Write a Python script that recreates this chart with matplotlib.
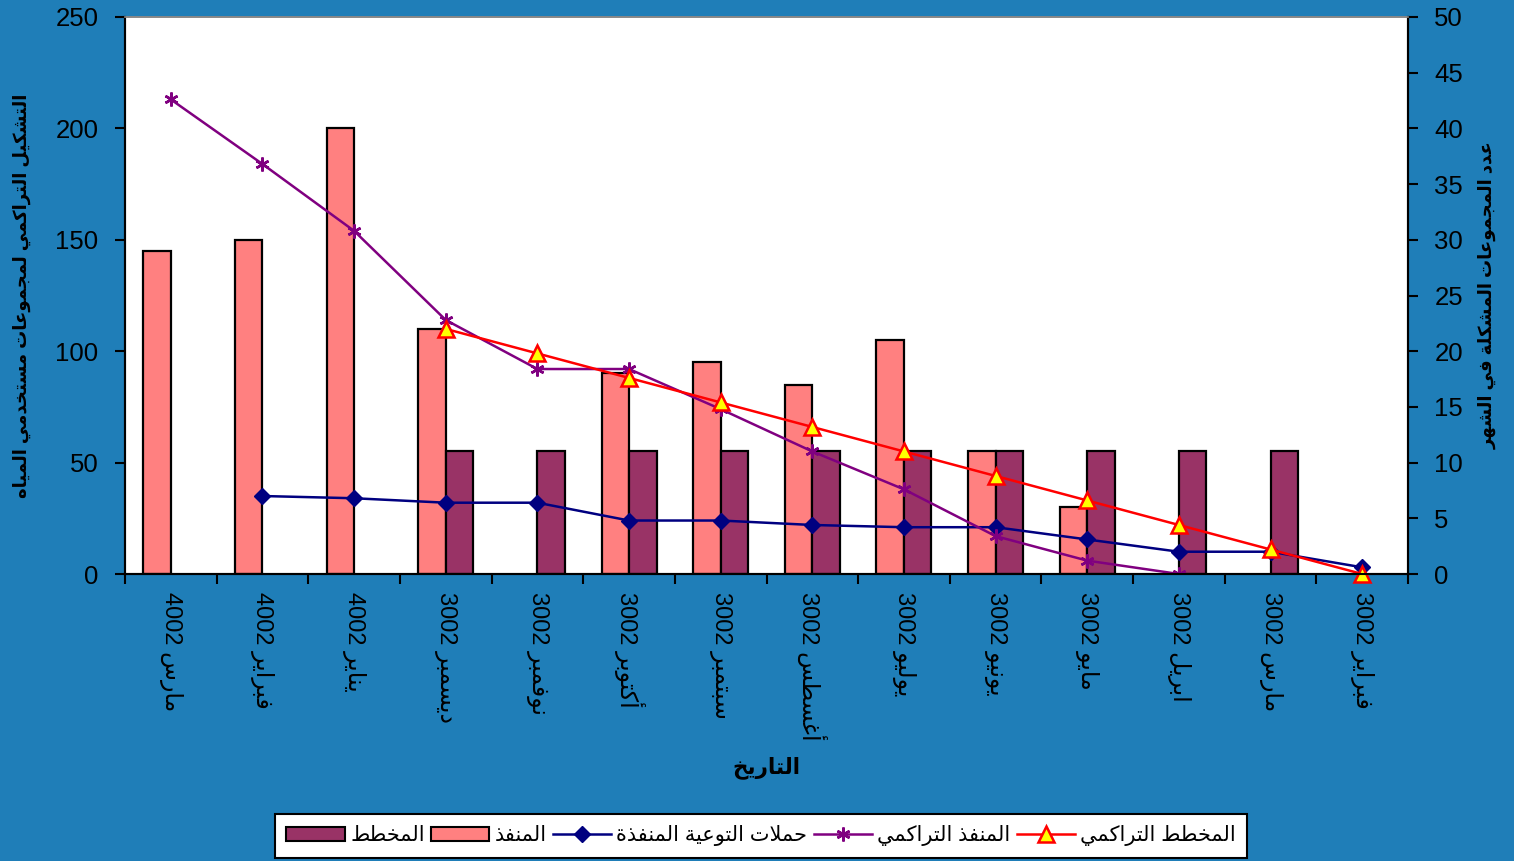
import matplotlib
matplotlib.use("Agg")
import matplotlib.pyplot as plt
from matplotlib.lines import Line2D
from matplotlib.patches import Patch

plt.rcParams['font.family'] = ['Liberation Sans', 'DejaVu Sans']

# الشهور بترتيب الرسم (من اليسار)
months = ['مارس', 'فبراير', 'يناير', 'ديسمبر', 'نوفمبر', 'أكتوبر', 'سبتمبر',
          'أغسطس', 'يوليو', 'يونيو', 'مايو', 'ابريل', 'مارس', 'فبراير']
# years as they appear in the picture (digits shown reversed)
years = ['4002', '4002', '4002', '3002', '3002', '3002', '3002',
         '3002', '3002', '3002', '3002', '3002', '3002', '3002']

# bars (right axis, groups per month)
executed = [29, 30, 40, 22, 0, 18, 19, 17, 21, 11, 6, 0, 0, 0]
planned = [0, 0, 0, 11, 11, 11, 11, 11, 11, 11, 11, 11, 11, 0]

# lines (left axis)
campaigns = [None, 35, 34, 32, 32, 24, 24, 22, 21, 21, 15.5, 10, 10, 3]
cum_executed = [213, 184, 154, 114, 92, 92, 74, 55, 38, 17, 6, 0, None, None]
cum_planned = [None, None, None, 110, 99, 88, 77, 66, 55, 44, 33, 22, 11, 0]

lbl_planned = 'المخطط'
lbl_executed = 'المنفذ'
lbl_campaigns = 'حملات التوعية المنفذة'
lbl_cum_exec = 'المنفذ التراكمي'
lbl_cum_plan = 'المخطط التراكمي'
ylabel_left = 'التشكيل التراكمي لمجموعات مستخدمي المياه'
ylabel_right = 'عدد المجموعات المشكلة في الشهر'
xlabel = 'التاريخ'

# --- minimal arabic shaping (matplotlib has no complex text layout) ---
FORMS = {
    'ا': ('\ufe8d', '\ufe8e', None, None),
    'أ': ('\ufe83', '\ufe84', None, None),
    'ب': ('\ufe8f', '\ufe90', '\ufe91', '\ufe92'),
    'ة': ('\ufe93', '\ufe94', None, None),
    'ت': ('\ufe95', '\ufe96', '\ufe97', '\ufe98'),
    'ج': ('\ufe9d', '\ufe9e', '\ufe9f', '\ufea0'),
    'ح': ('\ufea1', '\ufea2', '\ufea3', '\ufea4'),
    'خ': ('\ufea5', '\ufea6', '\ufea7', '\ufea8'),
    'د': ('\ufea9', '\ufeaa', None, None),
    'ذ': ('\ufeab', '\ufeac', None, None),
    'ر': ('\ufead', '\ufeae', None, None),
    'س': ('\ufeb1', '\ufeb2', '\ufeb3', '\ufeb4'),
    'ش': ('\ufeb5', '\ufeb6', '\ufeb7', '\ufeb8'),
    'ط': ('\ufec1', '\ufec2', '\ufec3', '\ufec4'),
    'ع': ('\ufec9', '\ufeca', '\ufecb', '\ufecc'),
    'غ': ('\ufecd', '\ufece', '\ufecf', '\ufed0'),
    'ف': ('\ufed1', '\ufed2', '\ufed3', '\ufed4'),
    'ك': ('\ufed9', '\ufeda', '\ufedb', '\ufedc'),
    'ل': ('\ufedd', '\ufede', '\ufedf', '\ufee0'),
    'م': ('\ufee1', '\ufee2', '\ufee3', '\ufee4'),
    'ن': ('\ufee5', '\ufee6', '\ufee7', '\ufee8'),
    'ه': ('\ufee9', '\ufeea', '\ufeeb', '\ufeec'),
    'و': ('\ufeed', '\ufeee', None, None),
    'ي': ('\ufef1', '\ufef2', '\ufef3', '\ufef4'),
}
LAMALEF = {'ا': ('\ufefb', '\ufefc'), 'أ': ('\ufef7', '\ufef8')}


def ar(text):
    out = []
    n = len(text)
    i = 0
    while i < n:
        c = text[i]
        if c not in FORMS:
            out.append(c)
            i += 1
            continue
        prev = text[i - 1] if i > 0 else None
        join_prev = prev in FORMS and FORMS[prev][2] is not None
        if c == 'ل' and i + 1 < n and text[i + 1] in LAMALEF:
            lig = LAMALEF[text[i + 1]]
            out.append(lig[1] if join_prev else lig[0])
            i += 2
            continue
        nxt = text[i + 1] if i + 1 < n else None
        join_next = FORMS[c][2] is not None and nxt in FORMS
        iso, fin, ini, med = FORMS[c]
        if join_prev and join_next:
            out.append(med)
        elif join_prev:
            out.append(fin)
        elif join_next:
            out.append(ini)
        else:
            out.append(iso)
        i += 1
    return ''.join(out)[::-1]


bg = '#1f7eb8'
fig = plt.figure(figsize=(15.14, 8.61), dpi=100, facecolor=bg)
ax = fig.add_axes([125 / 1514, 1 - 574 / 861, (1408 - 125) / 1514, (574 - 17) / 861])
ax2 = ax.twinx()

x = list(range(len(months)))
w = 0.3
xb1 = [i for i, v in zip(x, executed) if v]
ax.bar([i - w / 2 for i in xb1], [v for v in executed if v], width=w,
       color='#ff8080', edgecolor='black', linewidth=1.6)
xb2 = [i for i, v in zip(x, planned) if v]
ax.bar([i + w / 2 for i in xb2], [v for v in planned if v], width=w,
       color='#993366', edgecolor='black', linewidth=1.6)
ax.set_ylim(0, 50)
ax.set_yticks(range(0, 51, 5))
ax.yaxis.tick_right()
ax.yaxis.set_label_position('right')
ax.set_facecolor('white')

xc = [i for i, v in zip(x, campaigns) if v is not None]
ax2.plot(xc, [v for v in campaigns if v is not None], color='#000080', lw=1.8,
         marker='D', ms=8, mfc='#000080', mec='#000080')
xe = [i for i, v in zip(x, cum_executed) if v is not None]
ax2.plot(xe, [v for v in cum_executed if v is not None], color='#800080', lw=1.8,
         marker=(6, 2, 0), ms=10, mec='#800080', mew=1.8)
xp = [i for i, v in zip(x, cum_planned) if v is not None]
ax2.plot(xp, [v for v in cum_planned if v is not None], color='#ff0000', lw=1.8,
         marker='^', ms=11, mfc='#ffff00', mec='#ff0000', mew=1.8, clip_on=False)
ax2.set_ylim(0, 250)
ax2.set_yticks(range(0, 251, 50))
ax2.yaxis.tick_left()
ax2.yaxis.set_label_position('left')

ax.set_xlim(-0.5, len(months) - 0.5)
ax.set_xticks(x)
ax.set_xticklabels([y + ' ' + ar(m) for m, y in zip(months, years)], rotation=-90,
                   va='top', ha='center', fontsize=17)
ax.set_xticks([i - 0.5 for i in range(len(months) + 1)], minor=True)
ax.tick_params(axis='x', which='major', length=0, pad=13)
ax.tick_params(axis='x', which='minor', length=7, width=1.5, direction='out')
ax.tick_params(axis='y', length=7, width=1.5, direction='out', labelsize=18.5, pad=12)
ax2.tick_params(axis='y', length=7, width=1.5, direction='out', labelsize=18.5, pad=12)

for a in (ax, ax2):
    for s in a.spines.values():
        s.set_linewidth(1.5)
    a.spines['top'].set_color('#888888')
    a.spines['top'].set_linewidth(1.2)

ax2.set_ylabel(ar(ylabel_left), fontsize=13, fontweight='bold', rotation=90)
ax2.yaxis.set_label_coords(-0.073, 0.5)
ax.set_ylabel(ar(ylabel_right), fontsize=13, fontweight='bold', rotation=90)
ax.yaxis.set_label_coords(1.055, 0.5)
ax.set_xlabel(ar(xlabel), fontsize=15.5, fontweight='bold')
ax.xaxis.set_label_coords(0.5, -0.327)

handles = [
    Patch(facecolor='#993366', edgecolor='black', linewidth=1.5),
    Patch(facecolor='#ff8080', edgecolor='black', linewidth=1.5),
    Line2D([], [], color='#000080', lw=1.8, marker='D', ms=8),
    Line2D([], [], color='#800080', lw=1.8, marker=(6, 2, 0), ms=10, mew=1.8),
    Line2D([], [], color='#ff0000', lw=1.8, marker='^', ms=11, mfc='#ffff00', mec='#ff0000', mew=1.8),
]
labels = [ar(lbl_planned), ar(lbl_executed), ar(lbl_campaigns), ar(lbl_cum_exec), ar(lbl_cum_plan)]
leg = fig.legend(handles, labels, loc='upper left', bbox_to_anchor=(275 / 1514, 1 - 814 / 861),
                 ncol=5, fontsize=15, frameon=True, fancybox=False, edgecolor='black',
                 framealpha=1, borderpad=0.55, handlelength=2.8, handletextpad=0.25,
                 columnspacing=0.3, borderaxespad=0)
leg.get_frame().set_linewidth(1.5)

fig.savefig('out.png', dpi=100, facecolor=bg)
